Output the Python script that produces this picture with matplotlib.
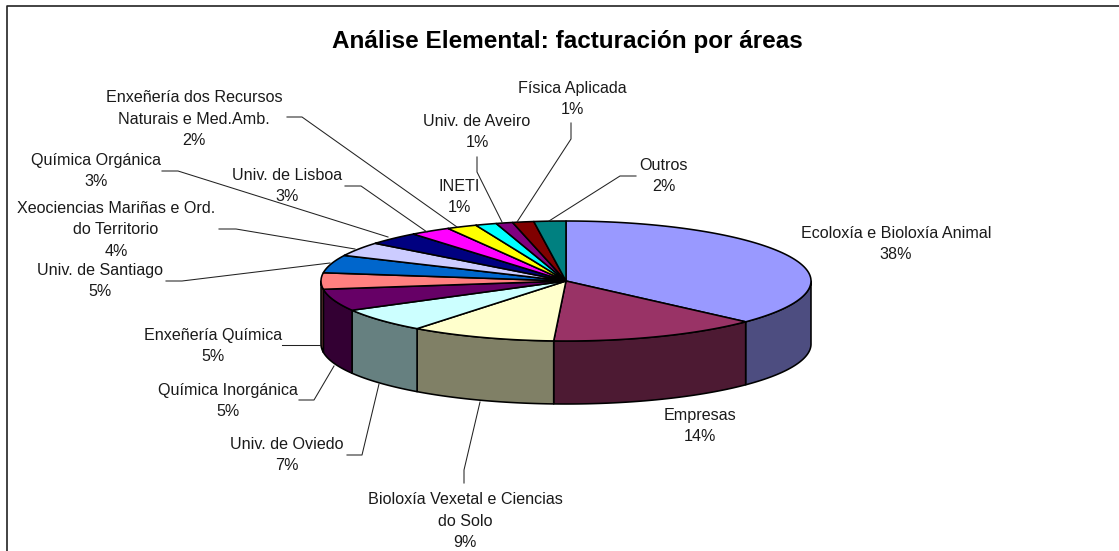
"""3-D style pie of Análise Elemental billing by area. Writes out.png."""
import numpy as np
import matplotlib
matplotlib.use("Agg")
import matplotlib.pyplot as plt

plt.rcParams["font.family"] = ["Liberation Sans", "DejaVu Sans"]

TITLE = "Análise Elemental: facturación por áreas"
areas = ["Ecoloxía e Bioloxía Animal", "Empresas", "Bioloxía Vexetal e Ciencias\ndo Solo",
         "Univ. de Oviedo", "Química Inorgánica", "Enxeñería Química", "Univ. de Santiago",
         "Xeociencias Mariñas e Ord.\ndo Territorio", "Química Orgánica", "Univ. de Lisboa",
         "Enxeñería dos Recursos\nNaturais e Med.Amb.", "INETI", "Univ. de Aveiro",
         "Física Aplicada", "Outros"]
pct_labels = [38, 14, 9, 7, 5, 5, 5, 4, 3, 3, 2, 1, 1, 1, 2]
# shares as drawn on the rim (the perspective squeezes them a bit against the printed %)
shares = [36.9, 13.9, 9.6, 6.5, 5.9, 4.4, 4.8, 3.8, 3.5, 2.7, 2.0, 1.4, 1.1, 1.4, 2.1]
colors = ["#9999FF", "#993366", "#FFFFCC", "#CCFFFF", "#660066", "#FF8080", "#0066CC", "#CCCCFF",
          "#000080", "#FF00FF", "#FFFF00", "#00FFFF", "#800080", "#800000", "#008080"]

# layout, in pixels of the 1119x551 picture
CX, CY, RX, RY, DEPTH = 566, 281, 245, 60, 63
label_xy = [(896, 244), (700, 426), (465, 521), (287, 455), (228, 401), (213, 346), (100, 281),
            (116, 230), (96, 171), (287, 186), (194, 119), (459, 197), (477, 132), (572, 99), (664, 176)]
leaders = [
    [(464, 483), (464, 470), (480, 402)],
    [(347, 455), (362, 455), (379, 384)],
    [(299, 400), (314, 400), (334, 366)],
    [(282, 345), (320, 345)],
    [(166, 281), (182, 281), (330, 263)],
    [(219, 229), (236, 229), (355, 249)],
    [(162, 171), (178, 171), (388, 237)],
    [(345, 186), (361, 186), (427, 232)],
    [(287, 117), (302, 117), (457, 227)],
    [(477, 157), (477, 172), (502, 222)],
    [(571, 123), (571, 139), (517, 222)],
    [(636, 176), (620, 176), (549, 221)],
]


def rim(a, b):
    t = np.radians(np.linspace(a, b, max(int(abs(b - a) * 2), 2)))
    return CX + RX * np.sin(t), CY - RY * np.cos(t)


def darker(c):
    return tuple(v * 0.5 for v in matplotlib.colors.to_rgb(c))


fig = plt.figure(figsize=(11.19, 5.51), dpi=100)
ax = fig.add_axes([0, 0, 1, 1])
ax.set_xlim(0, 1119); ax.set_ylim(551, 0); ax.axis("off")

# chart frame, only top and left are inside the crop
ax.plot([7, 7, 1119], [551, 6, 6], color="#222222", lw=1.2)

edges = np.cumsum([0] + shares) / sum(shares) * 360
# walls, only the front half shows
for a, b, c in zip(edges[:-1], edges[1:], colors):
    lo, hi = max(a, 90), min(b, 270)
    if lo >= hi:
        continue
    x, y = rim(lo, hi)
    ax.fill(np.r_[x, x[::-1]], np.r_[y, y[::-1] + DEPTH], fc=darker(c), ec="black", lw=1.15, joinstyle="round")
# top faces
for a, b, c in zip(edges[:-1], edges[1:], colors):
    x, y = rim(a, b)
    ax.fill(np.r_[CX, x], np.r_[CY, y], fc=c, ec="black", lw=1.15, joinstyle="round")

for pts in leaders:
    xs, ys = zip(*pts)
    ax.plot(xs, ys, color="#222222", lw=0.75)

for name, pct, (x, y) in zip(areas, pct_labels, label_xy):
    ax.text(x, y, f"{name}\n{pct}%", ha="center", va="center", fontsize=11.6, linespacing=1.52, color="#1a1a1a")
ax.text(567, 48, TITLE, ha="center", va="baseline", fontsize=17.5, fontweight="bold", color="black")

fig.savefig("out.png", dpi=100)
